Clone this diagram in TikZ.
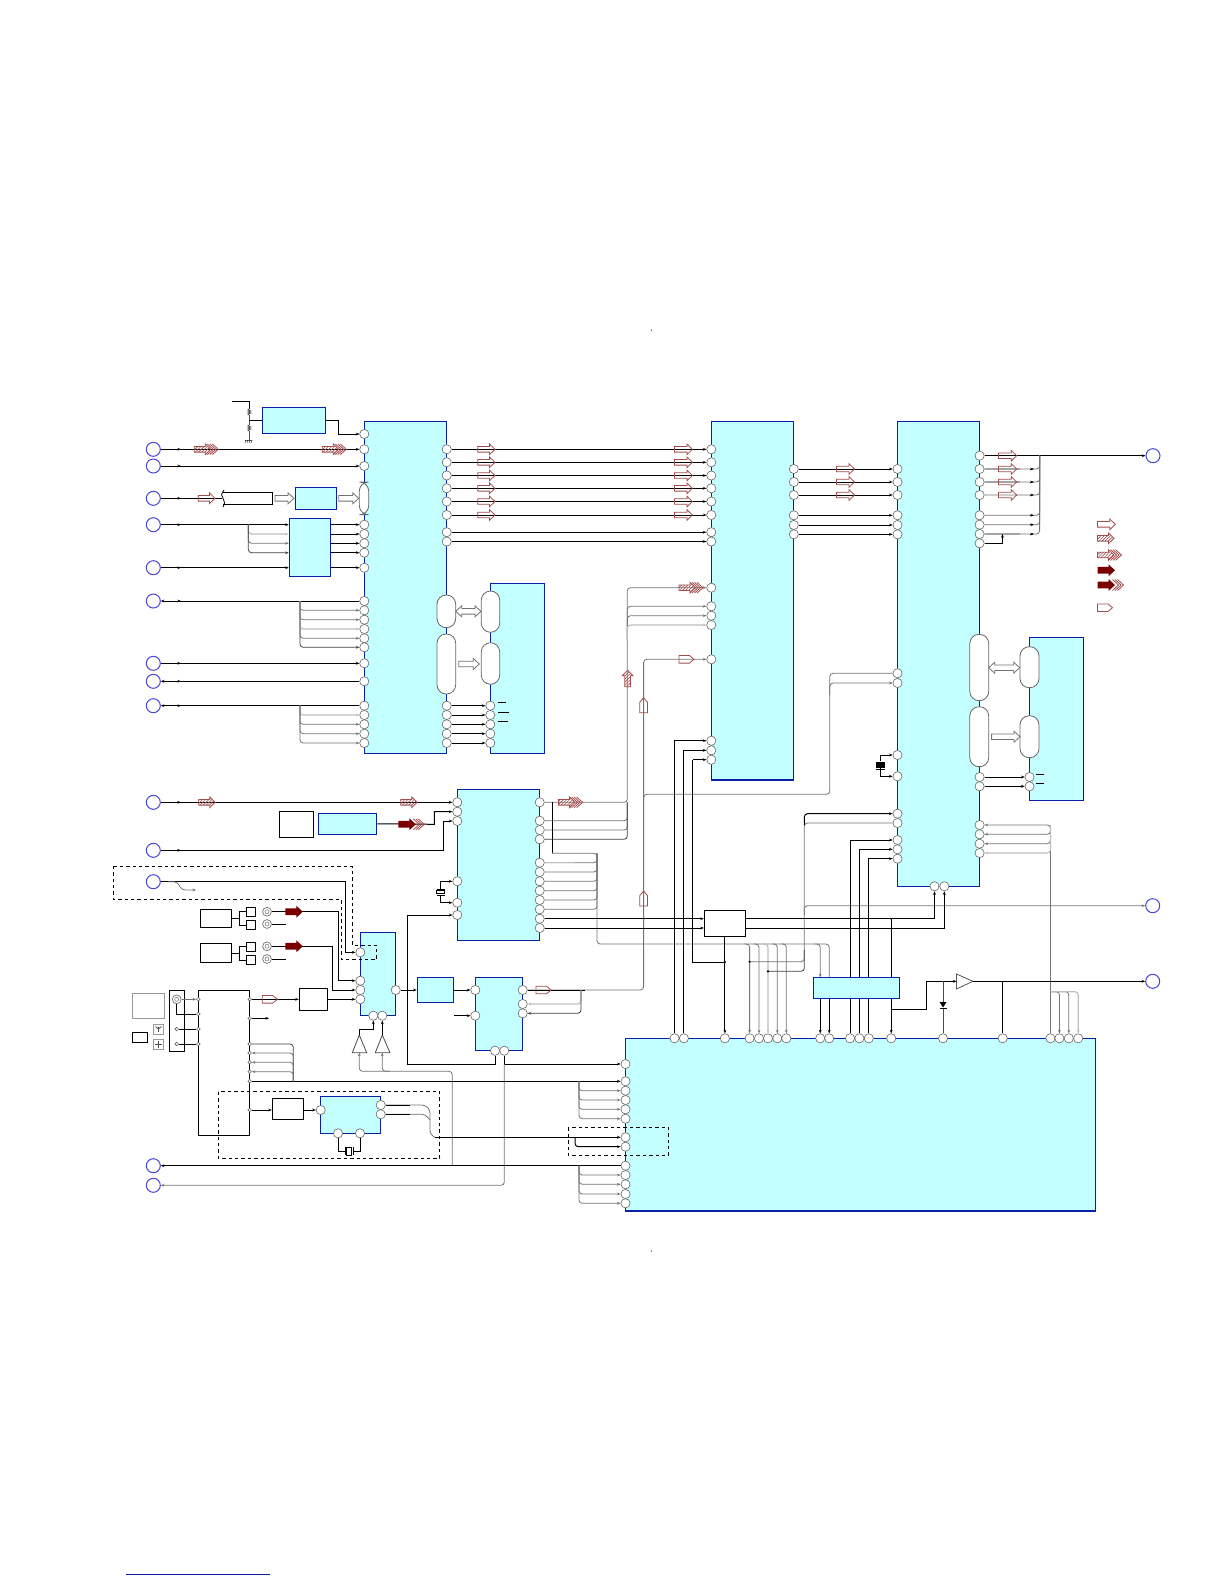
\documentclass[tikz,border=0pt]{standalone}
\usepackage{xcolor}
\usetikzlibrary{arrows.meta,fit,patterns.meta}
\definecolor{icblue}{HTML}{0A1EA8}
\definecolor{icfill}{HTML}{C4FFFF}
\definecolor{conblue}{HTML}{4646D8}
\definecolor{sigred}{HTML}{A34B4B}
\definecolor{sigdark}{HTML}{7A0000}

\begin{document}
\begin{tikzpicture}[
  x=0.5pt,
  y=-0.5pt,
  >={Stealth[length=1.8pt,width=1.4pt]},
  wire/.style={black, line width=0.5pt},
  gwire/.style={black!55, line width=0.4pt, rounded corners=1.6pt},
  pwire/.style={black!25, line width=0.6pt, rounded corners=1.6pt},
  dwire/.style={black!75, line width=0.4pt, rounded corners=1.6pt},
  icbox/.style={draw=icblue, fill=icfill, line width=0.55pt, inner sep=0pt},
  blkbox/.style={draw=black, fill=white, line width=0.5pt, inner sep=0pt},
  grybox/.style={draw=black!40, fill=white, line width=0.5pt, inner sep=0pt},
  pin/.style={circle, draw=black!60, fill=white, line width=0.3pt, inner sep=0pt, minimum size=4.6pt},
  tpin/.style={circle, draw=black!60, fill=white, line width=0.3pt, inner sep=0pt, minimum size=1.8pt},
  conn/.style={circle, draw=conblue, fill=white, line width=0.5pt, inner sep=0pt, minimum size=7pt},
  jack/.style={circle, draw=black!50, fill=white, line width=0.4pt, inner sep=0pt, minimum size=4.4pt},
  oblong/.style={draw=black!60, fill=white, line width=0.4pt, inner sep=0pt, rounded corners=4.6pt},
  dashbox/.style={black, line width=0.5pt, dash pattern=on 1.7pt off 1.5pt},
  hatchfill/.style={pattern={Lines[angle=45,distance=1.1pt,line width=0.3pt]}, pattern color=sigred},
  pics/hollow/.style={code={
    \draw[sigred, line width=0.4pt] (0,-2.8) -- ({#1-5.5},-2.8) -- ({#1-5.5},-5.3) -- (#1,0)
      -- ({#1-5.5},5.3) -- ({#1-5.5},2.8) -- (0,2.8) -- cycle;}},
  pics/hatched/.style={code={
    \draw[sigred, line width=0.4pt, hatchfill]
      (0,-2.8) -- (11,-2.8) -- (11,-5.3) -- (16.5,0) -- (11,5.3) -- (11,2.8) -- (0,2.8) -- cycle;}},
  pics/triple/.style={code={
    \draw[sigred, line width=0.4pt, hatchfill]
      (0,-2.8) -- (11,-2.8) -- (11,-5.3) -- (16.5,0) -- (11,5.3) -- (11,2.8) -- (0,2.8) -- cycle;
    \draw[sigred, line width=0.4pt] (13,-5.3) -- (19,0) -- (13,5.3);
    \draw[sigred, line width=0.4pt] (15.5,-5.3) -- (21.5,0) -- (15.5,5.3);
    \draw[sigred, line width=0.4pt] (18,-5.3) -- (24,0) -- (18,5.3);}},
  pics/solid/.style={code={
    \fill[sigdark] (0,-3.4) -- (11,-3.4) -- (11,-6) -- (17.5,0) -- (11,6) -- (11,3.4) -- (0,3.4) -- cycle;}},
  pics/solidtriple/.style={code={
    \fill[sigdark] (0,-3.4) -- (11,-3.4) -- (11,-6) -- (17.5,0) -- (11,6) -- (11,3.4) -- (0,3.4) -- cycle;
    \draw[sigred, line width=0.4pt] (15,-5.5) -- (21,0) -- (15,5.5);
    \draw[sigred, line width=0.4pt] (17.5,-5.5) -- (23.5,0) -- (17.5,5.5);
    \draw[sigred, line width=0.4pt] (20,-5.5) -- (26,0) -- (20,5.5);}},
  pics/flag/.style={code={
    \draw[sigred, line width=0.4pt] (0,-3.8) -- (10.5,-3.8) -- (15,0) -- (10.5,3.8) -- (0,3.8) -- cycle;}},
  pics/gryarrow/.style={code={
    \draw[black!55, fill=white, line width=0.4pt] (0,-2.8) -- ({#1-6},-2.8) -- ({#1-6},-5.5) -- (#1,0)
      -- ({#1-6},5.5) -- ({#1-6},2.8) -- (0,2.8) -- cycle;}},
  pics/gryboth/.style={code={
    \draw[black!55, fill=white, line width=0.4pt] (0,0) -- (6,-5.5) -- (6,-2.8) -- ({#1-6},-2.8) -- ({#1-6},-5.5) -- (#1,0)
      -- ({#1-6},5.5) -- ({#1-6},2.8) -- (6,2.8) -- (6,5.5) -- cycle;}},
  pics/resv/.style={code={
    \draw[black!70, line width=0.4pt] (0,0) -- (-1.5,1) -- (1.5,2) -- (-1.5,3) -- (1.5,4) -- (-1.5,5) -- (0,6);}},
  pics/xtal/.style={code={
    \draw[wire, fill=white] (-3.8,-1.5) rectangle (3.8,1.5);
    \draw[wire] (-3.8,-3) -- (3.8,-3);
    \draw[wire] (-3.8,3) -- (3.8,3);}}
]
  \useasboundingbox (0,0) rectangle (1224,1584);

  % ---- tiny page marks ----
  \fill[black!60] (651.4,330.2) circle (0.4pt);
  \fill[black!60] (651.4,1251) circle (0.4pt);
  \draw[icblue, line width=0.5pt] (126,1574.5) -- (269.5,1574.5);

  % ---- main blocks ----
  \node[icbox, fit={(364.3,421.3)(446.7,753.3)}] (ua) {};
  \node[icbox, fit={(289.3,518.3)(330.7,576.7)}] (ub) {};
  \node[icbox, fit={(457.3,789.3)(539.7,940.3)}] (uc) {};
  \node[icbox, fit={(360.3,932.3)(395.7,1015.7)}] (ud) {};
  \node[icbox, fit={(711.3,421.3)(793.8,780)}] (ue) {};
  \node[icbox, fit={(897.5,421.3)(979.6,886.3)}] (uf) {};
  \node[icbox, fit={(318.3,813.3)(376.7,834.3)}] (ug) {};
  \node[icbox, fit={(475.3,977.3)(522.7,1050.7)}] (uh) {};
  \node[icbox, fit={(625.5,1038.3)(1095.3,1211)}] (ui) {};
  \node[icbox, fit={(1029.5,637.3)(1083.6,800.3)}] (uk) {};
  \node[icbox, fit={(490.3,583.3)(544.3,753.3)}] (um) {};
  \node[icbox, fit={(320.3,1096.3)(380.7,1133.3)}] (un) {};
  \node[icbox, fit={(262.3,407.3)(325.7,433.3)}] (up) {};
  \node[icbox, fit={(295.3,487.3)(336.7,509.3)}] (uq) {};
  \node[icbox, fit={(417.3,977.3)(453.7,1002.7)}] (ur) {};

  % ---- plain boxes ----
  \node[blkbox, fit={(279.3,811.3)(313.3,837.3)}] (wb1) {};
  \node[blkbox, fit={(200.3,909.3)(231.7,927.7)}] (wb2) {};
  \node[blkbox, fit={(200.3,943.3)(231.7,962.7)}] (wb3) {};
  \node[blkbox, fit={(299.3,988.3)(327.7,1010.3)}] (wb4) {};
  \node[blkbox, fit={(198.3,990.3)(249.7,1135.3)}] (tun) {};
  \node[blkbox, fit={(169.3,990.3)(184.7,1051.7)}] (ant) {};
  \node[blkbox, fit={(132.3,1032.3)(147.7,1042.7)}] (wb5) {};
  \node[blkbox, fit={(272.3,1098.3)(303.7,1119.3)}] (wb6) {};
  \node[blkbox, fit={(704.3,910.3)(745.5,936.7)}] (sw) {};
  \node[grybox, fit={(132.3,993.3)(164,1018.7)}] (gb1) {};
  \node[grybox, fit={(153.3,1024.3)(163.7,1034.3)}] (gb2) {};
  \node[grybox, fit={(153.3,1039.3)(163.7,1049.3)}] (gb3) {};
  \node[blkbox, fit={(246.3,907.3)(255.7,916.3)}] (s1) {};
  \node[blkbox, fit={(246.3,920.3)(255.7,929.7)}] (s2) {};
  \node[blkbox, fit={(246.3,942.3)(255.7,951.3)}] (s3) {};
  \node[blkbox, fit={(246.3,955.3)(255.7,964.7)}] (s4) {};
  \draw[blkbox, fill=none] (223.3,492.3) -- (272.7,492.3) -- (272.7,504.7) -- (223.3,504.7);
  \draw[black, line width=0.4pt] (224,490) .. controls (221,494) and (221,496) .. (223,498.3)
    .. controls (225,501) and (225,504) .. (223,507);

  % ---- oblong buses ----
  \node[oblong, fit={(359.3,482)(368.7,514.7)}] (ua-o1) {};
  \node[oblong, fit={(437,595)(455.7,627.7)}] (ua-o2) {};
  \node[oblong, fit={(437,634)(455.7,694)}] (ua-o3) {};
  \node[oblong, fit={(481.3,591)(499.7,632.3)}] (um-o1) {};
  \node[oblong, fit={(481.3,642.7)(499.7,684.3)}] (um-o2) {};
  \node[oblong, fit={(969.8,634.3)(988.7,700.7)}] (uf-o1) {};
  \node[oblong, fit={(969.8,706.7)(988.7,766.7)}] (uf-o2) {};
  \node[oblong, fit={(1020,646.7)(1039,687.7)}] (uk-o1) {};
  \node[oblong, fit={(1020,715.7)(1039,757.7)}] (uk-o2) {};

  % ---- pins ----
  \foreach \y [count=\i] in {434,449.3,466,524.7,534,543.3,552.7,567.7,601,610.3,619.7,629,638.3,647.3,663.3,681.3,705.7,715,724.3,733.7,743}
    \node[pin] (ua-l\i) at (364.3,\y) {};
  \foreach \y [count=\i] in {449.3,462.3,475.5,488.3,501.5,515,532.2,541.5,705.7,715,724.3,733.7,743}
    \node[pin] (ua-r\i) at (446.7,\y) {};
  \foreach \y [count=\i] in {705.7,715,724.3,733.7,743}
    \node[pin] (um-l\i) at (490.3,\y) {};
  \foreach \y [count=\i] in {802.3,811.7,821,881.3,902.7,915}
    \node[pin] (uc-l\i) at (457.3,\y) {};
  \foreach \y [count=\i] in {802.3,820.7,830,839.3,862.7,872,881.3,890.7,900,909.3,918.7,928}
    \node[pin] (uc-r\i) at (539.7,\y) {};
  \foreach \y [count=\i] in {952.3,980.7,990,999.3}
    \node[pin] (ud-l\i) at (360.3,\y) {};
  \node[pin] (ud-r1) at (395.7,990) {};
  \node[pin] (ud-b1) at (373.3,1015.7) {};
  \node[pin] (ud-b2) at (382.3,1015.7) {};
  \foreach \y [count=\i] in {449.3,462.3,475.5,488.3,501.5,515,532.2,541.5,587.7,606.3,615.7,625,659.3,740.7,750.3,759.7}
    \node[pin] (ue-l\i) at (711.3,\y) {};
  \foreach \y [count=\i] in {469,482,495,515.3,525,534.3}
    \node[pin] (ue-r\i) at (793.8,\y) {};
  \foreach \y [count=\i] in {469,482,495,515.3,525,534.3,673.3,683,755,776.3,813.7,823,840,849.3,858.7}
    \node[pin] (uf-l\i) at (897.5,\y) {};
  \foreach \y [count=\i] in {455.7,469,482,495,515.3,524.7,534,543.3,777,786.3,825,834.3,843.7,853}
    \node[pin] (uf-r\i) at (979.6,\y) {};
  \node[pin] (uf-b1) at (934.5,886.3) {};
  \node[pin] (uf-b2) at (944.3,886.3) {};
  \node[pin] (uk-l1) at (1029.5,777) {};
  \node[pin] (uk-l2) at (1029.5,786.3) {};
  \node[pin] (uh-l1) at (475.3,990) {};
  \node[pin] (uh-l2) at (475.3,1015.7) {};
  \foreach \y [count=\i] in {990,1004,1013.3}
    \node[pin] (uh-r\i) at (522.7,\y) {};
  \node[pin] (uh-b1) at (495,1050.7) {};
  \node[pin] (uh-b2) at (504.3,1050.7) {};
  \node[pin] (un-l1) at (320.7,1110) {};
  \node[pin] (un-r1) at (380.7,1105) {};
  \node[pin] (un-r2) at (380.7,1114.3) {};
  \node[pin] (un-b1) at (338,1133.3) {};
  \node[pin] (un-b2) at (360,1133.3) {};
  \foreach \y [count=\i] in {1064,1081.3,1090.7,1100,1109.3,1118.7,1137.3,1146.7,1165.7,1175,1184.3,1194,1203.3}
    \node[pin] (ui-l\i) at (625.5,\y) {};
  \foreach \x [count=\i] in {674.5,683.9,724.9,749.6,759,768,777.3,786.3,820.2,829.2,850,859.4,868.8,891.2,943,1002.7,1050.4,1059.4,1068.8,1078.2}
    \node[pin] (ui-t\i) at (\x,1038.3) {};

  % ---- tuner small pins ----
  \foreach \y [count=\i] in {999.3,1014,1029,1044}
    \node[tpin] (tp-l\i) at (198.3,\y) {};
  \foreach \y [count=\i] in {999.3,1018.3,1044,1053,1062.3,1071.7,1081.3,1110}
    \node[tpin] (tp-r\i) at (249.7,\y) {};
  \node[tpin] (ap-1) at (176.7,1029) {};
  \node[tpin] (ap-2) at (176.7,1044) {};

  % ---- connectors ----
  \foreach \y [count=\i] in {449.3,466,498.3,524.7,567.7,601,663.3,681.3,705.7,802.3,850.3,881.7,1165.7,1185.3}
    \node[conn] (cn\i) at (153.3,\y) {};
  \node[conn] (cn15) at (1153,455.7) {};
  \node[conn] (cn16) at (1152.7,905.7) {};
  \node[conn] (cn17) at (1152.7,981.3) {};

  % ---- jacks ----
  \foreach \y [count=\i] in {911.7,924,946.3,959,999.3} {
    \ifnum\i=5
      \node[jack] (j\i) at (176.7,\y) {};
    \else
      \node[jack] (j\i) at (267,\y) {};
    \fi
    \draw[black!50, line width=0.3pt] (j\i) circle (1pt);
  }

  % ---- top left: regulator and divider ----
  \coordinate (div1) at (249.3,420.3);
  \draw[wire] (232,401.3) -- (249.3,401.3) -- (249.3,409);
  \draw[black!70, line width=0.4pt] (249.3,415) -- (249.3,425);
  \draw[black!70, line width=0.4pt] (249.3,431) -- (249.3,440);
  \draw[black!70, line width=0.4pt] (245,440) -- (252,440);
  \foreach \x in {246,248,250,252}
    \draw[black!70, line width=0.3pt] (\x,440) -- ({\x-1},443);
  \pic at (249.3,409) {resv};
  \pic at (249.3,425) {resv};
  \draw[wire] (div1) -- (up.west);
  \draw[wire, ->] (up.east) -- (338.3,420.3) -- (338.3,434) -- (ua-l1);

  % ---- left connectors into ua ----
  \draw[wire, ->] (cn1) -- (ua-l2);
  \draw[wire, ->] (cn2) -- (ua-l3);
  \draw[wire] (cn3) -- (222,498.3);
  \draw[wire, ->] (cn4) -- (ub.west |- cn4);
  \coordinate (rail1) at (248.3,524.7);
  \draw[pwire, ->] (rail1) |- (ub.west |- ua-l5);
  \draw[gwire, ->] (rail1) |- (ub.west |- ua-l6);
  \draw[dwire, ->] (rail1) |- (ub.west |- ua-l7);
  \draw[wire, ->] (cn5) -- (ub.west |- cn5);
  \foreach \i in {4,5,6,7,8}
    \draw[wire, ->] (ub.east |- ua-l\i) -- (ua-l\i);

  \draw[wire, ->] (ua-l9) -- (cn6);
  \coordinate (rail2) at (300,601);
  \foreach \i in {10,11,13}
    \draw[gwire, ->] (rail2) |- (ua-l\i);
  \draw[pwire, ->] (rail2) |- (ua-l12);
  \draw[dwire, ->] (rail2) |- (ua-l14);
  \draw[wire, ->] (cn7) -- (ua-l15);
  \draw[wire, ->] (ua-l16) -- (cn8);
  \draw[wire, ->] (ua-l17) -- (cn9);
  \coordinate (rail3) at (300,705.7);
  \draw[pwire, ->] (rail3) |- (ua-l18);
  \foreach \i in {19,20,21}
    \draw[gwire, ->] (rail3) |- (ua-l\i);

  % ---- small marks along the long wires ----
  \foreach \y in {449.3,466,498.3,524.7,567.7,601,663.3,681.3,705.7,802.3,850.3}
    \draw[wire, ->] (177,\y) -- (181,\y);

  % ---- ua to ue and um ----
  \foreach \i in {1,...,8}
    \draw[wire, ->] (ua-r\i) -- (ue-l\i);
  \foreach \i in {1,...,5} {
    \pgfmathtruncatemacro{\j}{\i+8}
    \draw[wire, ->] (ua-r\j) -- (um-l\i);
  }
  \draw[wire] (498,702.3) -- (506,702.3);
  \draw[wire] (498,712.3) -- (508.7,712.3);
  \draw[wire] (498,721.3) -- (508,721.3);

  % ---- ue to uf ----
  \foreach \i in {1,...,6}
    \draw[wire, ->] (ue-r\i) -- (uf-l\i);

  % ---- uf right side ----
  \draw[wire, ->] (uf-r1) -- (cn15);
  \coordinate (rail4) at (1039.6,455.7);
  \draw[pwire] (uf-r2) -- (1020,469);
  \draw[pwire] (uf-r3) -- (1020,482);
  \draw[pwire] (uf-r7) -- (1020,534);
  \foreach \i in {2,3,4,5,6,7}
    \draw[gwire] (uf-r\i) -| (rail4);
  \foreach \y in {469,482,495,515.3,524.7,534}
    \draw[wire, ->] (1030,\y) -- (1034,\y);
  \draw[wire, ->] (uf-r8) -- (1002.5,543.3) -- (1002.5,534);
  \draw[wire, ->] (uf-r9) -- (uk-l1);
  \draw[wire, ->] (uf-r10) -- (uk-l2);
  \draw[wire] (1035.6,774) -- (1044,774);
  \draw[wire] (1035.6,783.3) -- (1044.4,783.3);
  \coordinate (rail5) at (1050.4,825);
  \draw[gwire, <-] (uf-r11) -| (ui-t17);
  \draw[gwire, <-] (uf-r12) -| (rail5);
  \draw[gwire, <-] (uf-r13) -| (rail5);
  \draw[pwire, <-] (uf-r14) -| (rail5);
  \foreach \i/\x in {18/1059.4,19/1068.8} 
    \draw[gwire, ->] (1050.4,991.7) -- (\x,991.7) -- (ui-t\i);
  \draw[pwire, ->] (1050.4,991.7) -- (1078.2,991.7) -- (ui-t20);

  % ---- crystal on uf and uc ----
  \draw[wire, ->] (880.4,761) -- (880.4,755) -- (uf-l9);
  \draw[wire, ->] (880.4,768) -- (880.4,776.3) -- (uf-l10);
  \fill[black] (876.4,761.7) rectangle (884.7,767.7);
  \draw[wire] (876.4,769.7) -- (884.7,769.7);
  \draw[wire, ->] (440.7,889) -- (440.7,881.3) -- (uc-l4);
  \draw[wire, ->] (440.7,895) -- (440.7,902.7) -- (uc-l5);
  \pic at (440.7,892) {xtal};

  % ---- uc left side ----
  \draw[wire, ->] (cn10) -- (uc-l1);
  \draw[wire, ->] (ug.east) -- (434.3,824.3) -- (434.3,811.7) -- (uc-l2);
  \draw[wire, ->] (cn11) -- (443.3,850.3) -- (443.3,821) -- (uc-l3);
  \draw[wire, ->] (uh-b1) -- (495,1064.3) -- (407.3,1064.3) -- (407.3,915) -- (uc-l6);

  % ---- uc right side rails ----
  \coordinate (rail6) at (627.3,802.3);
  \draw[gwire, ->] (uc-r1) -| (rail6) -- (627.3,587.7) -- (ue-l9);
  \foreach \i in {2,3}
    \draw[gwire] (uc-r\i) -| (rail6);
  \draw[dwire] (uc-r4) -| (rail6);
  \coordinate (rail7) at (627.3,640);
  \foreach \i in {10,11}
    \draw[gwire, ->] (rail7) |- (ue-l\i);
  \draw[pwire, ->] (rail7) |- (ue-l12);
  \draw[gwire, ->] (uh-r1) -- (643.6,990) -- (643.6,659.3) -- (ue-l13);
  \draw[wire] (uh-r1) -- (585,990);
  \draw[pwire, ->] (581,990) -- (581,1004) -- (uh-r2);
  \draw[dwire, ->] (581,990) -- (581,1013.3) -- (uh-r3);
  \draw[gwire] (643.6,800) -- (643.6,794.3) -- (829.8,794.3) -- (829.8,673.3) -- (uf-l7);
  \draw[gwire, ->] (829.8,695) -- (829.8,683) -- (uf-l8);

  % ---- bus from uc to ui and uj ----
  \draw[wire] (552,802.3) -- (552,853.3);
  \draw[gwire] (552,853.3) -- (597,853.3) -- (597,944) -- (829.2,944) -- (829.2,977.3);
  \foreach \i in {5,6,7,8,9,10}
    \draw[gwire] (uc-r\i) -| (597,853.3);
  \draw[pwire] (uc-r5) -- (575,862.7);
  \foreach \i/\x in {4/749.6,5/759,7/777.3,8/786.3}
    \draw[gwire, ->] ({\x-5},944) -- (\x,944) -- (ui-t\i);
  \draw[pwire, ->] (763,944) -- (768,944) -- (ui-t6);
  \draw[gwire, ->] (815,944) -- (820.2,944) -- (820.2,977.3);
  \draw[wire, ->] (820.2,998.3) -- (ui-t9);
  \draw[wire, ->] (829.2,998.3) -- (ui-t10);
  \draw[gwire] (749.6,961.7) -- (804.3,961.7) -- (804.3,823) -- (uf-l12);
  \draw[dwire] (768,971.3) -- (804.3,971.3) -- (804.3,950);
  \draw[wire, rounded corners=1.6pt, ->] (804.3,825) -- (804.3,813.7) -- (uf-l11);
  \draw[gwire, ->] (804.3,915) -- (804.3,905.7) -- (cn16);
  \fill[black] (749.6,961.7) circle (0.6pt);
  \fill[black] (768,971.3) circle (0.6pt);

  % ---- switch box ----
  \draw[wire, ->] (uc-r11) -- (sw.west |- uc-r11);
  \draw[wire, ->] (uc-r12) -- (sw.west |- uc-r12);
  \draw[wire, ->] (sw.east |- uc-r11) -- (934.5,918.7) -- (uf-b1);
  \draw[wire, ->] (sw.east |- uc-r12) -- (944.3,928) -- (uf-b2);
  \draw[wire, ->] (sw.south) -- (ui-t3);
  \draw[wire] (724.9,962) -- (692.8,962) -- (692.8,759.7);
  \draw[wire, ->] (692.8,759.7) -- (ue-l16);
  \fill[black] (724.9,962) circle (0.6pt);

  % ---- ui top to ue and uf ----
  \draw[wire, ->] (ui-t1) |- (ue-l14);
  \draw[wire, ->] (ui-t2) |- (ue-l15);
  \foreach \i/\x/\j in {11/850/13,12/859.4/14,13/868.8/15} {
    \draw[wire] (ui-t\i) -- (\x,998.3);
    \draw[wire, ->] (\x,977.3) |- (uf-l\j);
  }
  \draw[wire, ->] (891.2,998.3) -- (ui-t14);
  \draw[wire] (891.2,977.3) -- (891.2,918.7);
  \fill[black] (891.2,918.7) circle (0.6pt);
  \node[icbox, fit={(813.3,977.3)(899.4,998.3)}] (uj) {};

  % ---- output amp ----
  \coordinate (bf3a) at (956.5,981.3);
  \coordinate (bf3k) at (972.9,981.3);
  \draw[black!65, fill=white, line width=0.4pt] (956.5,974) -- (bf3k) -- (956.5,989) -- cycle;
  \draw[wire, ->] (891.2,1009.3) -- (926.3,1009.3) -- (926.3,981.3) -- (bf3a);
  \draw[wire, ->] (bf3k) -- (cn17);
  \draw[black!70, line width=0.4pt] (943,981.3) -- (943,1002);
  \draw[black!70, line width=0.4pt] (943,1008) -- (ui-t15);
  \fill[black] (939.5,1002) -- (946.5,1002) -- (943,1007.5) -- cycle;
  \draw[wire] (939.5,1008) -- (946.5,1008);
  \draw[wire] (1002.7,981.3) -- (ui-t16);

  % ---- jacks and sources ----
  \draw[wire] (wb2.east) -- (239.3,918.5) coordinate (t1);
  \draw[wire] (t1) |- (s1.west);
  \draw[wire] (t1) |- (s2.west);
  \draw[wire] (wb3.east) -- (239.3,953) coordinate (t2);
  \draw[wire] (t2) |- (s3.west);
  \draw[wire] (t2) |- (s4.west);
  \draw[wire, ->] (j1) -- (338.7,911.7) -- (338.7,980.7) -- (ud-l2);
  \draw[wire] (j2) -- (285.7,924);
  \draw[wire, ->] (j3) -- (332.3,946.3) -- (332.3,990) -- (ud-l3);
  \draw[wire] (j4) -- (285.7,959);

  % ---- ud wires ----
  \draw[wire, ->] (cn12) -- (345.7,881.7) -- (345.7,952.3) -- (ud-l1);
  \draw[gwire, ->] (168,881.7) -- (177,881.7) -- (182,890) -- (196,890);
  \draw[wire, ->] (tp-r1) -- (wb4.west |- tp-r1);
  \draw[wire, ->] (wb4.east |- ud-l4) -- (ud-l4);
  \draw[wire, ->] (ud-r1) -- (ur.west);
  \draw[wire, ->] (ur.east) -- (uh-l1);
  \draw[wire, ->] (454,1015.7) -- (uh-l2);

  % ---- amps under ud ----
  \coordinate (bf1a) at (359.3,1035);
  \coordinate (bf1b) at (359.3,1052.7);
  \coordinate (bf2a) at (382.3,1035);
  \coordinate (bf2b) at (382.3,1052.7);
  \draw[black!70, fill=white, line width=0.4pt] (352.3,1052.7) -- (bf1a) -- (366.7,1052.7) -- cycle;
  \draw[black!70, fill=white, line width=0.4pt] (375.3,1052.7) -- (bf2a) -- (390,1052.7) -- cycle;
  \draw[wire, ->] (bf1a) -- (359.3,1029.3) -- (373.3,1029.3) -- (ud-b1);
  \draw[wire, ->] (bf2a) -- (ud-b2);
  \draw[gwire, ->] (452.3,1165.7) -- (452.3,1071.3) -- (359.3,1071.3) -- (bf1b);
  \draw[gwire, ->] (390,1071.3) -- (382.3,1071.3) -- (bf2b);

  % ---- uh to ui ----
  \draw[wire, ->] (uh-b2) -- (504.3,1064) -- (ui-l1);
  \draw[gwire, <-] (cn14) -- (504.3,1185.3) -- (504.3,1064);
  \draw[wire, ->] (tp-r7) -- (ui-l2);
  \coordinate (rail8) at (579,1081.3);
  \foreach \i in {3,4,5,6}
    \draw[gwire, <-] (ui-l\i) -| (rail8);
  \draw[gwire] (un-r1) -- (425,1105) -- (430,1110) -- (430,1134) -- (435,1137.3);
  \draw[wire] (un-r1) -- (410,1105);
  \draw[wire, ->] (435,1137.3) -- (ui-l7);
  \draw[gwire] (un-r2) -- (425,1114.3) -- (430,1120);
  \draw[wire] (un-r2) -- (410,1114.3);
  \draw[wire, rounded corners=1.6pt, ->] (575,1137.3) -- (575,1146.7) -- (ui-l8);
  \draw[wire, <-] (cn13) -- (ui-l9);
  \coordinate (rail9) at (579,1165.7);
  \foreach \i in {10,11,12,13}
    \draw[gwire, <-] (ui-l\i) -| (rail9);

  % ---- un ----
  \draw[wire, ->] (tp-r8) -- (wb6.west |- tp-r8);
  \draw[wire, ->] (wb6.east |- un-l1) -- (un-l1);
  \draw[wire] (un-b1) -- (338,1151) -- (345,1151);
  \draw[wire] (un-b2) -- (360,1151) -- (353.3,1151);
  \draw[wire] (345,1147) -- (345,1155);
  \draw[wire] (353.3,1147) -- (353.3,1155);
  \draw[wire, fill=white] (346.7,1147) rectangle (351.5,1155);

  % ---- tuner ----
  \draw[gwire, ->] (j5) -- (tp-l1);
  \draw[wire] (176.7,1003.7) -- (176.7,1014) -- (tp-l2);
  \draw[wire] (ap-1) -- (tp-l3);
  \draw[wire] (ap-2) -- (tp-l4);
  \draw[wire, ->] (tp-r2) -- (269,1018.3);
  \draw[dwire] (tp-r3) -| (293.3,1081.3);
  \foreach \i in {4,5,6}
    \draw[gwire, <-] (tp-r\i) -| (293.3,1081.3);
  \draw[black!70, line width=0.4pt] (158.5,1026.5) -- (158.5,1032);
  \draw[black!70, line width=0.4pt] (155.5,1026.5) -- (158.5,1029) -- (161.5,1026.5);
  \draw[black!70, line width=0.4pt] (158.5,1041) -- (158.5,1047.5);
  \draw[black!70, line width=0.4pt] (155,1044.5) -- (162,1044.5);

  % ---- hollow buses ----
  \pic at (275,498.3) {gryarrow=19};
  \pic at (338.7,498.3) {gryarrow=20};
  \pic at (455.7,611.3) {gryboth=25.3};
  \pic at (458.7,664) {gryarrow=20.6};
  \pic at (988.7,667.7) {gryboth=31};
  \pic at (991.6,736.7) {gryarrow=28.4};

  % ---- signal arrows ----
  \pic at (194.3,449.3) {triple};
  \pic at (322.3,449.3) {triple};
  \pic at (198.3,498.3) {hollow=16.7};
  \foreach \y in {449.3,462.3,475.5,488.3,501.5,515}
    \pic at (477.7,\y) {hollow=17.3};
  \foreach \y in {449.3,462.3,475.5,488.3,501.5,515}
    \pic at (674.5,\y) {hollow=17.9};
  \foreach \y in {469,482,495}
    \pic at (836.4,\y) {hollow=18.1};
  \foreach \y in {455.7,469,482,495}
    \pic at (998.5,\y) {hollow=18.2};
  \pic at (198.7,802.3) {hatched};
  \pic at (400.7,802.3) {hatched};
  \pic at (558.6,802.3) {triple};
  \pic at (398.3,824.3) {solidtriple};
  \pic at (285.3,911.7) {solid};
  \pic at (285.3,946.3) {solid};
  \pic at (679,587.7) {triple};
  \pic at (679,659.3) {flag};
  \pic at (262.3,999.3) {flag};
  \pic at (536,990) {flag};
  \pic[rotate=90] at (627.6,686.7) {hatched};
  \pic[rotate=90] at (643.6,712.7) {flag};
  \pic[rotate=90] at (643.6,906) {flag};

  % ---- legend ----
  \pic at (1097.5,524.3) {hollow=17.8};
  \pic at (1097.5,538.3) {hatched};
  \pic at (1097.5,555) {triple};
  \pic at (1097.5,570.3) {solid};
  \pic at (1097.5,585) {solidtriple};
  \pic at (1097.5,607.7) {flag};

  % ---- dashed areas ----
  \draw[dashbox] (113.3,866.7) -- (352.3,866.7) -- (352.3,945.3) -- (376.7,945.3) -- (376.7,959.7)
    -- (341.3,959.7) -- (341.3,899.3) -- (113.3,899.3) -- cycle;
  \draw[dashbox] (218.3,1091.7) rectangle (439.7,1158.3);
  \draw[dashbox] (568.4,1127.3) rectangle (668.8,1155.3);
\end{tikzpicture}
\end{document}
